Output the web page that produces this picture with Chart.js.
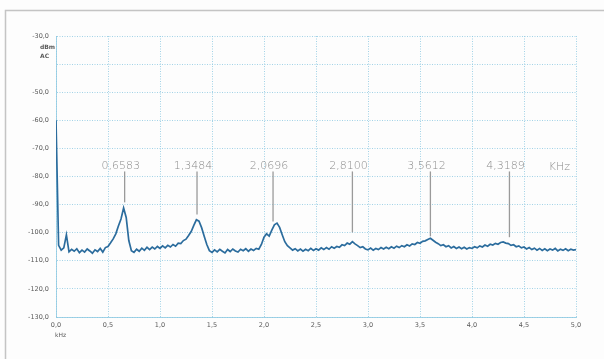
<!DOCTYPE html>
<html>
<head>
<meta charset="utf-8">
<script src="https://cdn.jsdelivr.net/npm/chart.js@4/dist/chart.umd.min.js"></script>
<style>
  html, body { margin: 0; padding: 0; background: #fdfdfd; }
  #wrap { position: relative; width: 604px; height: 359px; }
</style>
</head>
<body>
<div id="wrap"><canvas id="miGrafico" width="604" height="359"></canvas></div>
<script>
// frecuencia en kHz, paso de muestreo del analizador
var PASO = 0.025;

var nivel = [
    // 0,0 - 0,475
    -60, -104.5, -106.2, -105.4, -100.8, -106.8, -105.9, -106.6, -105.7, -107.1,
    -106.2, -106.9, -105.8, -106.5, -107.3, -106.1, -106.7, -105.6, -106.9, -105.3,
    // 0,5 - 0,975
    -104.9, -103.6, -102.2, -100.4, -97.6, -95.1, -91.2, -94.6, -102.8, -106.4,
    -107.0, -105.9, -106.6, -105.5, -106.3, -105.2, -106.0, -105.1, -105.8, -104.9,
    // 1,0 - 1,475
    -105.6, -104.7, -105.4, -104.5, -105.1, -104.2, -104.8, -103.7, -103.9, -102.8,
    -102.3, -101.0, -99.6, -97.4, -95.4, -95.9, -98.2, -101.3, -104.2, -106.4,
    // 1,5 - 1,975
    -107.0, -106.1, -106.8, -105.9, -106.6, -107.2, -106.0, -106.7, -105.8, -106.5,
    -106.9, -105.9, -106.4, -105.7, -106.6, -105.8, -106.3, -105.6, -105.9, -104.2,
    // 2,0 - 2,475
    -101.6, -100.4, -101.2, -99.1, -97.2, -96.6, -98.1, -100.7, -103.2, -104.6,
    -105.4, -106.2, -105.7, -106.5, -105.8, -106.6, -105.9, -106.4, -105.6, -106.3,
    // 2,5 - 2,975
    -105.7, -106.2, -105.4, -106.0, -105.3, -105.9, -105.0, -105.5, -104.9, -105.2,
    -104.3, -104.6, -103.7, -104.1, -103.2, -104.0, -104.6, -105.3, -105.0, -105.8,
    // 3,0 - 3,475
    -106.1, -105.5, -106.2, -105.6, -106.0, -105.3, -105.8, -105.2, -105.7, -105.0,
    -105.5, -104.8, -105.3, -104.6, -105.0, -104.3, -104.7, -104.0, -104.2, -103.5,
    // 3,5 - 3,975
    -103.8, -103.1, -102.9, -102.4, -102.0, -102.7, -103.4, -103.9, -104.6, -104.3,
    -105.0, -104.6, -105.4, -104.9, -105.6, -105.1, -105.7, -105.2, -105.8, -105.3,
    // 4,0 - 4,475
    -105.6, -105.0, -105.4, -104.7, -105.1, -104.4, -104.8, -104.1, -104.4, -103.8,
    -104.1, -103.5, -103.3, -103.7, -103.9, -104.5, -104.3, -105.0, -104.7, -105.4,
    // 4,5 - 5,0
    -105.1, -105.8, -105.3, -106.0, -105.5, -106.2, -105.6, -106.3, -105.7, -106.4,
    -105.8, -106.2, -105.6, -106.5, -105.9, -106.3, -105.7, -106.4, -105.9, -106.2,
    -106.0
];

// marcas a mano: texto, posición (kHz) y extremo inferior de la raya (dBm)
var marcaTexto = ["0,6583", "1,3484", "2,0696", "2,8100", "3,5612", "4,3189"];
var marcaFrec = [0.66, 1.356, 2.087, 2.85, 3.6, 4.36];
var marcaFin = [-89.2, -93.5, -96.0, -99.9, -101.3, -101.6];
var marcaTope = -78.2;

var ejeY = [-130, -30];
var ejeX = [0, 5];

var puntos = nivel.map(function (v, i) {
    return { x: +(i * PASO).toFixed(3), y: v };
});

function coma(v, dec) {
    return v.toFixed(dec).replace(".", ",");
}

var colorRejilla = "rgba(140,200,225,0.8)";
var colorTexto = "#5a5a5a";

var marcas = {
    id: "marcas",
    afterDatasetsDraw: function (chart) {
        var ctx = chart.ctx;
        var sx = chart.scales.x, sy = chart.scales.y;
        ctx.save();
        ctx.strokeStyle = "#9a9a9a";
        ctx.lineWidth = 1.3;
        ctx.fillStyle = "#8a8a8a";
        ctx.font = "300 11px 'DejaVu Sans'";
        ctx.textAlign = "center";
        ctx.textBaseline = "middle";
        for (var i = 0; i < marcaTexto.length; i++) {
            var px = sx.getPixelForValue(marcaFrec[i]);
            ctx.beginPath();
            ctx.moveTo(px, sy.getPixelForValue(marcaTope));
            ctx.lineTo(px, sy.getPixelForValue(marcaFin[i]));
            ctx.stroke();
            ctx.fillText(marcaTexto[i], px - 4, sy.getPixelForValue(marcaTope) - 5);
        }
        ctx.fillText("KHz", sx.getPixelForValue(4.36) + 50, sy.getPixelForValue(marcaTope) - 4);

        // unidades del eje
        ctx.fillStyle = colorTexto;
        ctx.font = "bold 6px 'DejaVu Sans'";
        ctx.textAlign = "left";
        ctx.fillText("dBm", 40, 47);
        ctx.fillText("AC", 40, 56);
        ctx.font = "6px 'DejaVu Sans'";
        ctx.fillText("kHz", 55, 335);

        // marco de la hoja
        ctx.strokeStyle = "#c4c4c4";
        ctx.lineWidth = 1.5;
        ctx.beginPath();
        ctx.moveTo(5.5, 359);
        ctx.lineTo(5.5, 10.5);
        ctx.lineTo(604, 10.5);
        ctx.stroke();
        ctx.restore();
    }
};

var ctx = document.getElementById("miGrafico").getContext("2d");
var myChart = new Chart(ctx, {
    type: "line",
    data: {
        datasets: [
            {
                label: "Espectro",
                data: puntos,
                borderColor: "#2b6c9d",
                borderWidth: 1.7,
                pointRadius: 0,
                tension: 0,
                fill: false,
            },
        ],
    },
    options: {
        responsive: false,
        animation: false,
        layout: { padding: { top: 36, right: 28, left: 0, bottom: 0 } },
        plugins: { legend: { display: false }, tooltip: { enabled: false } },
        scales: {
            x: {
                type: "linear",
                min: ejeX[0],
                max: ejeX[1],
                afterFit: function (eje) { eje.height = 42; },
                ticks: {
                    stepSize: 0.5,
                    padding: 4,
                    color: colorTexto,
                    font: { size: 6.5, family: "DejaVu Sans" },
                    maxRotation: 0,
                    callback: function (v) { return coma(v, 1); },
                },
                grid: { color: colorRejilla, drawTicks: false, lineWidth: 1 },
                border: { display: true, color: colorRejilla, dash: [1, 1.5] },
            },
            y: {
                min: ejeY[0],
                max: ejeY[1],
                afterFit: function (eje) { eje.width = 56; },
                ticks: {
                    stepSize: 10,
                    padding: 7,
                    color: colorTexto,
                    font: { size: 6.5, family: "DejaVu Sans" },
                    callback: function (v) { return v === -40 ? "" : coma(v, 1); },
                },
                grid: { color: colorRejilla, drawTicks: false, lineWidth: 1 },
                border: { display: true, color: colorRejilla, dash: [1, 1.5] },
            },
        },
    },
    plugins: [marcas],
});
</script>
</body>
</html>
